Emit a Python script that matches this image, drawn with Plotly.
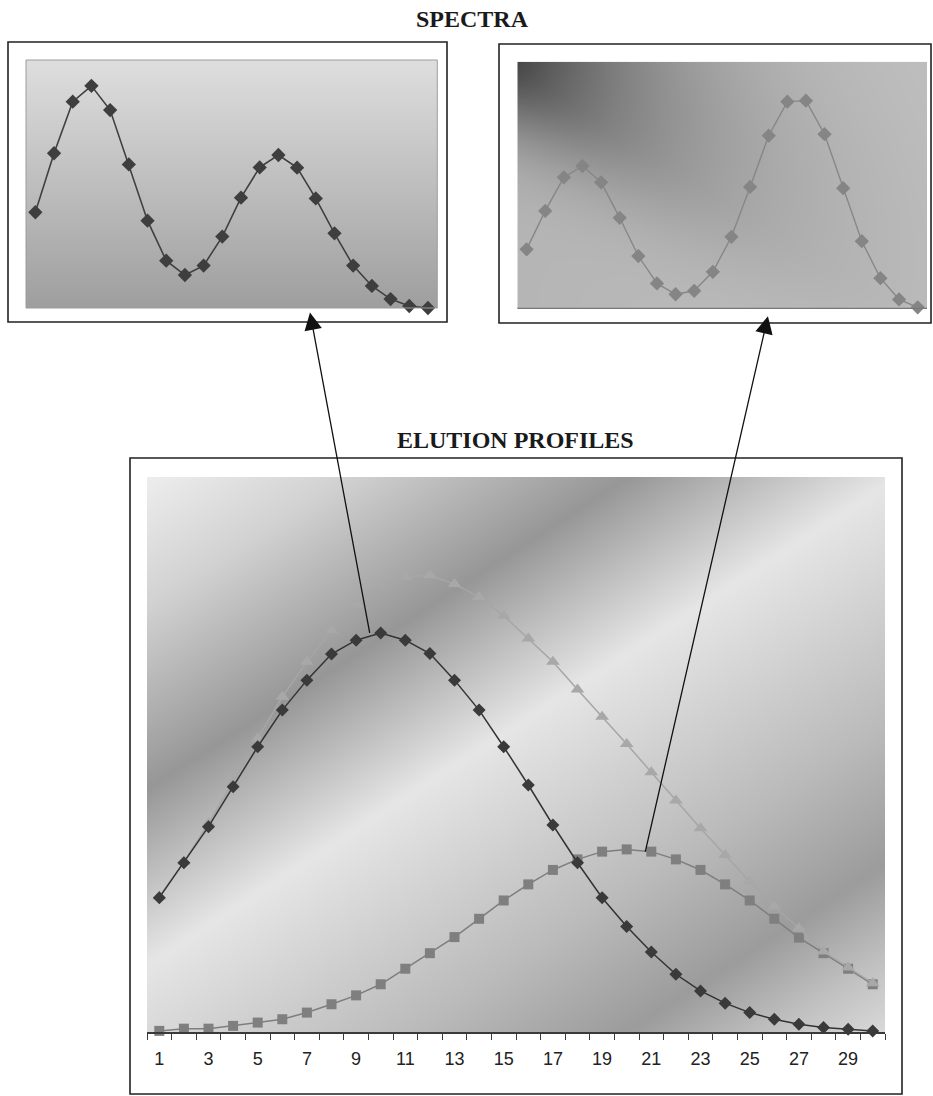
import numpy as np
import plotly.graph_objects as go

# ---- data -------------------------------------------------------------
# spectra (22 channels)
channels = list(range(1, 23))
spectrum_a = [38.6, 62.4, 83.2, 89.6, 79.8, 57.9, 35.2, 19.1, 13.3, 17.1, 28.8,
              44.5, 56.7, 61.7, 56.6, 44.2, 30.1, 17.1, 8.9, 3.6, 0.8, 0.0]
spectrum_b = [23.9, 39.5, 53.1, 57.7, 51.1, 36.7, 21.2, 10.1, 5.7, 7.1, 14.8,
              29.0, 49.2, 70.0, 83.8, 84.2, 70.6, 48.7, 27.2, 12.2, 3.6, 0.4]

# elution profiles (30 time points)
times = list(range(1, 31))
profile_a = [24.2, 30.5, 37.0, 44.2, 51.4, 58.0, 63.4, 68.1, 70.6, 71.9,
             70.6, 68.2, 63.4, 58.0, 51.4, 44.5, 37.3, 30.5, 24.2, 19.0,
             14.4, 10.4, 7.4, 5.2, 3.5, 2.3, 1.4, 0.8, 0.5, 0.2]
profile_b = [0.2, 0.6, 0.6, 1.1, 1.7, 2.3, 3.5, 5.0, 6.6, 8.6,
             11.4, 14.2, 17.1, 20.4, 23.7, 26.6, 29.2, 31.1, 32.5, 32.9,
             32.5, 31.1, 29.2, 26.6, 23.7, 20.4, 17.0, 14.2, 11.4, 8.6]
profile_sum = [24.4, 30.7, 37.6, 45.1, 52.9, 60.4, 66.7, 72.4, 77.1, 80.5,
               82.0, 82.3, 80.7, 78.4, 75.0, 70.9, 66.7, 61.7, 56.8, 51.9,
               46.8, 41.7, 36.7, 31.9, 27.1, 22.6, 18.7, 14.5, 11.6, 8.8]
time_ticks = [1, 3, 5, 7, 9, 11, 13, 15, 17, 19, 21, 23, 25, 27, 29]
time_tick_labels = ["1", "3", "5", "7", "9", "11", "13", "15", "17", "19",
                    "21", "23", "25", "27", "29"]

W_PAGE, H_PAGE = 933, 1096
GRAY = [[0, "rgb(0,0,0)"], [1, "rgb(255,255,255)"]]


def px_dom(a, b, total):
    return [a / total, b / total]


def py_dom(top, bottom):
    return [1 - bottom / H_PAGE, 1 - top / H_PAGE]


def backdrop(xr, yr, w, h, shade, nx=140, ny=110):
    """Smooth grey texture filling a plot area of w x h pixels."""
    xs = np.linspace(xr[0], xr[1], nx)
    ys = np.linspace(yr[0], yr[1], ny)
    X = np.linspace(0, w, nx)
    Y = h * (1 - np.linspace(0, 1, ny))          # distance from the top edge
    P, Q = np.meshgrid(X, Y)
    return go.Heatmap(x=xs, y=ys, z=shade(P, Q), colorscale=GRAY, zmin=0, zmax=1,
                      zsmooth="best", showscale=False, hoverinfo="skip")


# plot-area geometry (pixels)
A_BOX = (26, 437.3, 60, 308)      # left, right, top, bottom
B_BOX = (517.3, 927, 61.7, 308.3)
C_BOX = (147, 885, 477, 1032)


def shade_a(P, Q):
    return 0.87 - 0.25 * Q / (A_BOX[3] - A_BOX[2])


def shade_b(P, Q):
    a = 0.85 * P + 0.53 * Q
    p = -0.53 * P + 0.85 * Q
    width = np.where(p < 0, 150.0, 70.0)
    dark = 0.43 * np.exp(-a / 160.0) * np.exp(-(p / width) ** 2)
    return 0.71 + 0.04 * P / (B_BOX[1] - B_BOX[0]) - dark


def shade_c(P, Q):
    s = 0.65 * P + Q
    stops = [0, 130, 312, 390, 487, 627, 727, 867, 957, 1035]
    levels = [0.93, 0.82, 0.59, 0.73, 0.90, 0.80, 0.73, 0.61, 0.75, 0.85]
    return np.interp(s, stops, levels)


fig = go.Figure()

# --- spectrum A
fig.add_trace(backdrop([0.5, 22.5], [0, 100], A_BOX[1] - A_BOX[0], A_BOX[3] - A_BOX[2], shade_a))
fig.add_trace(go.Scatter(x=channels, y=spectrum_a, mode="lines+markers",
                         line=dict(color="#404040", width=1.6),
                         marker=dict(symbol="diamond", size=11, color="#3e3e3e"),
                         cliponaxis=False))

# --- spectrum B
fig.add_trace(backdrop([0.5, 22.5], [0, 100], B_BOX[1] - B_BOX[0], B_BOX[3] - B_BOX[2], shade_b)
              .update(xaxis="x2", yaxis="y2"))
fig.add_trace(go.Scatter(x=channels, y=spectrum_b, mode="lines+markers",
                         line=dict(color="#878787", width=1.4),
                         marker=dict(symbol="diamond", size=11, color="#858585"),
                         xaxis="x2", yaxis="y2", cliponaxis=False))

# --- elution profiles
fig.add_trace(backdrop([0.5, 30.5], [0, 100], C_BOX[1] - C_BOX[0], C_BOX[3] - C_BOX[2], shade_c,
                       nx=180, ny=140).update(xaxis="x3", yaxis="y3"))
fig.add_trace(go.Scatter(x=times, y=profile_b, mode="lines+markers",
                         line=dict(color="#7e7e7e", width=1.5),
                         marker=dict(symbol="square", size=10, color="#7f7f7f"),
                         xaxis="x3", yaxis="y3", cliponaxis=False))
fig.add_trace(go.Scatter(x=times, y=profile_sum, mode="lines+markers",
                         line=dict(color="#a6a6a6", width=1.5),
                         marker=dict(symbol="triangle-up", size=12, color="#a8a8a8"),
                         xaxis="x3", yaxis="y3", cliponaxis=False))
fig.add_trace(go.Scatter(x=times, y=profile_a, mode="lines+markers",
                         line=dict(color="#333333", width=1.5),
                         marker=dict(symbol="diamond", size=10, color="#3a3a3a"),
                         xaxis="x3", yaxis="y3", cliponaxis=False))

hidden = dict(visible=False, fixedrange=True)
fig.update_layout(
    width=W_PAGE, height=H_PAGE,
    margin=dict(l=0, r=0, t=0, b=0),
    paper_bgcolor="white", plot_bgcolor="white",
    showlegend=False,
    xaxis=dict(domain=px_dom(A_BOX[0], A_BOX[1], W_PAGE), range=[0.5, 22.5], **hidden),
    yaxis=dict(domain=py_dom(A_BOX[2], A_BOX[3]), range=[0, 100], **hidden),
    xaxis2=dict(domain=px_dom(B_BOX[0], B_BOX[1], W_PAGE), range=[0.5, 22.5], anchor="y2", **hidden),
    yaxis2=dict(domain=py_dom(B_BOX[2], B_BOX[3]), range=[0, 100], anchor="x2", **hidden),
    xaxis3=dict(domain=px_dom(C_BOX[0], C_BOX[1], W_PAGE), range=[0.5, 30.5], anchor="y3",
                tickmode="array", tickvals=time_ticks, ticktext=time_tick_labels,
                ticks="", showgrid=False, zeroline=False,
                showline=True, linecolor="#3a3a3a", linewidth=1.5,
                ticklabelstandoff=10,
                tickfont=dict(family="Liberation Sans, Arial, sans-serif", size=18, color="#222"),
                minor=dict(tickmode="linear", tick0=0.5, dtick=1, ticks="outside",
                           ticklen=6, tickwidth=1.2, tickcolor="#3a3a3a", showgrid=False),
                fixedrange=True),
    yaxis3=dict(domain=py_dom(C_BOX[2], C_BOX[3]), range=[0, 100], anchor="x3", **hidden),
)

# frames around each panel
frame = dict(type="rect", xref="paper", yref="paper", line=dict(color="#222", width=1.6),
             fillcolor="rgba(0,0,0,0)", layer="above")
for l, t, r, b in [(8, 42, 447, 322), (499, 44, 931, 323), (130, 458, 902, 1094)]:
    fig.add_shape(x0=l / W_PAGE, x1=r / W_PAGE, y0=1 - b / H_PAGE, y1=1 - t / H_PAGE, **frame)

fig.add_shape(type="rect", xref="x domain", yref="y domain", x0=0, x1=1, y0=0, y1=1,
              line=dict(color="#9c9c9c", width=1), layer="above")
fig.add_shape(type="line", xref="x2 domain", yref="y2 domain", x0=0, x1=1, y0=0, y1=0,
              line=dict(color="#777", width=1.2), layer="above")

# titles
title_font = dict(family="Liberation Serif, Times New Roman, serif", size=24, color="#1a1a1a",
                  weight="bold")
fig.add_annotation(text="SPECTRA", x=472 / W_PAGE, y=1 - 19 / H_PAGE, xref="paper", yref="paper",
                   showarrow=False, font=title_font, xanchor="center", yanchor="middle")
fig.add_annotation(text="ELUTION PROFILES", x=515 / W_PAGE, y=1 - 440 / H_PAGE, xref="paper",
                   yref="paper", showarrow=False, font=title_font, xanchor="center", yanchor="middle")

# arrows linking each elution peak to its spectrum
arrow = dict(text="", showarrow=True, arrowside="start", startarrowhead=2, startarrowsize=2.7,
             arrowwidth=1.3, arrowcolor="#111", xref="x3", yref="y3")
fig.add_annotation(x=10, y=profile_a[9], xshift=-11, ax=-60, ay=-322, **arrow)
fig.add_annotation(x=21, y=profile_b[20], xshift=-6, ax=123, ay=-537, **arrow)

fig.write_html("out.html")
